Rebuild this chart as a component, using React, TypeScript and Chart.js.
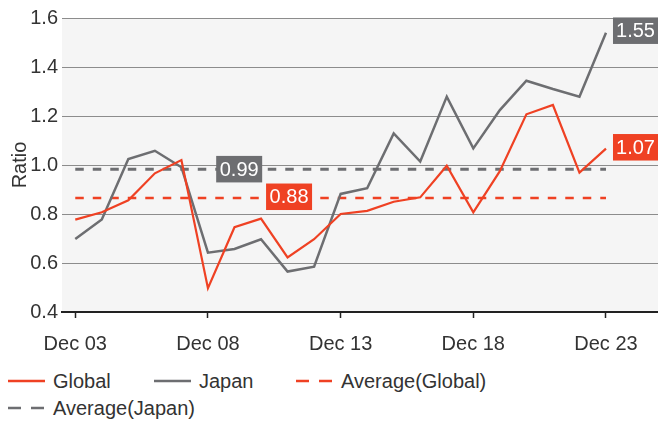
import React, { useEffect, useRef } from "react";
import { Chart, registerables } from "chart.js";

Chart.register(...registerables);

// ---- data ----
const categories = [
  "Dec 03", "Dec 04", "Dec 05", "Dec 06", "Dec 07", "Dec 08", "Dec 09",
  "Dec 10", "Dec 11", "Dec 12", "Dec 13", "Dec 14", "Dec 15", "Dec 16",
  "Dec 17", "Dec 18", "Dec 19", "Dec 20", "Dec 21", "Dec 22", "Dec 23",
];
const tickIndices = [0, 5, 10, 15, 20];
const globalValues = [
  0.777, 0.807, 0.856, 0.966, 1.02, 0.497, 0.746, 0.781, 0.623, 0.697,
  0.8, 0.813, 0.85, 0.868, 0.997, 0.807, 0.975, 1.207, 1.245, 0.969, 1.067,
];
const japanValues = [
  0.698, 0.778, 1.024, 1.058, 0.991, 0.642, 0.657, 0.697, 0.565, 0.585,
  0.882, 0.905, 1.129, 1.014, 1.279, 1.068, 1.224, 1.344, 1.31, 1.279, 1.54,
];
const avgGlobal = 0.865;
const avgJapan = 0.983;
const avgGlobalLabel = "0.88";
const avgJapanLabel = "0.99";
const lastGlobalLabel = "1.07";
const lastJapanLabel = "1.55";
const yTicks = [0.4, 0.6, 0.8, 1.0, 1.2, 1.4, 1.6];

const RED = "#ef4123";
const GRAY = "#6d6e71";
const TEXT = "#333333";
const FONT = "'Liberation Sans', Arial, sans-serif";

const toPoints = (vals: number[]) => vals.map((y, i) => ({ x: i, y }));

function drawBox(ctx: CanvasRenderingContext2D, left: number, right: number, cy: number, h: number, color: string, text: string) {
  ctx.save();
  ctx.fillStyle = color;
  ctx.fillRect(left, cy - h / 2, right - left, h);
  ctx.fillStyle = "#ffffff";
  ctx.font = `20px ${FONT}`;
  ctx.textAlign = "center";
  ctx.textBaseline = "middle";
  ctx.fillText(text, (left + right) / 2, cy + 1);
  ctx.restore();
}

const bgPlugin = {
  id: "bg",
  beforeDraw(chart: any) {
    const { ctx, chartArea } = chart;
    ctx.save();
    ctx.fillStyle = "#f5f5f5";
    ctx.fillRect(chartArea.left, chartArea.top, chartArea.right - chartArea.left, chartArea.bottom - chartArea.top);
    ctx.restore();
  },
};

const labelPlugin = {
  id: "valueLabels",
  afterDatasetsDraw(chart: any) {
    const { ctx, scales, chartArea } = chart;
    const xs = scales.x;
    const ys = scales.y;
    const h = 26.5;
    // average labels
    const jx = xs.getPixelForValue(5.31);
    drawBox(ctx, jx, jx + 46, ys.getPixelForValue(avgJapan), h, GRAY, avgJapanLabel);
    const gx = xs.getPixelForValue(7.19);
    drawBox(ctx, gx, gx + 46, ys.getPixelForValue(avgGlobal) - 1.3, h, RED, avgGlobalLabel);
    // last-value labels
    const last = categories.length - 1;
    const lx = xs.getPixelForValue(last) + 7;
    drawBox(ctx, lx, chartArea.right, ys.getPixelForValue(japanValues[last]) - 2, h, GRAY, lastJapanLabel);
    drawBox(ctx, lx, chartArea.right, ys.getPixelForValue(globalValues[last]) - 1.3, h, RED, lastGlobalLabel);
  },
};

function LegendSwatch({ color, dashed }: { color: string; dashed?: boolean }) {
  return (
    <svg width={37} height={6} style={{ display: "block" }}>
      <line
        x1={0}
        y1={3}
        x2={37}
        y2={3}
        stroke={color}
        strokeWidth={2.5}
        strokeDasharray={dashed ? "13 10" : undefined}
      />
    </svg>
  );
}

function LegendItem({ left, top, color, dashed, label }: any) {
  return (
    <div
      style={{
        position: "absolute",
        left,
        top,
        display: "flex",
        alignItems: "center",
        height: 26,
      }}
    >
      <LegendSwatch color={color} dashed={dashed} />
      <span style={{ marginLeft: 8, font: `20px ${FONT}`, color: TEXT, whiteSpace: "nowrap" }}>{label}</span>
    </div>
  );
}

export default function App() {
  const canvasRef = useRef<HTMLCanvasElement | null>(null);

  useEffect(() => {
    if (!canvasRef.current) return;
    const last = categories.length - 1;
    const chart = new Chart(canvasRef.current, {
      type: "line",
      data: {
        datasets: [
          {
            label: "Global",
            data: toPoints(globalValues),
            borderColor: RED,
            borderWidth: 2.2,
            pointRadius: 0,
            tension: 0,
          },
          {
            label: "Japan",
            data: toPoints(japanValues),
            borderColor: GRAY,
            borderWidth: 2.5,
            pointRadius: 0,
            tension: 0,
          },
          {
            label: "Average(Global)",
            data: [{ x: 0, y: avgGlobal }, { x: last, y: avgGlobal }],
            borderColor: RED,
            borderWidth: 2.5,
            borderDash: [8.5, 9],
            pointRadius: 0,
          },
          {
            label: "Average(Japan)",
            data: [{ x: 0, y: avgJapan }, { x: last, y: avgJapan }],
            borderColor: GRAY,
            borderWidth: 3,
            borderDash: [8.5, 9],
            pointRadius: 0,
          },
        ],
      },
      options: {
        animation: false,
        responsive: false,
        maintainAspectRatio: false,
        layout: { padding: { top: 18, right: 0, bottom: 0, left: 0 } },
        plugins: {
          legend: { display: false },
          tooltip: { enabled: false },
        },
        scales: {
          x: {
            type: "linear",
            min: -0.5,
            max: 21.96,
            afterBuildTicks: (scale: any) => {
              scale.ticks = tickIndices.map((v) => ({ value: v }));
            },
            afterFit: (scale: any) => {
              scale.height = 48;
            },
            ticks: {
              callback: (v: any) => categories[Number(v)] ?? "",
              font: { size: 20, family: FONT },
              color: TEXT,
              padding: 14,
              maxRotation: 0,
              autoSkip: false,
            },
            grid: {
              drawOnChartArea: false,
              drawTicks: true,
              tickLength: 6,
              color: "#222222",
              tickWidth: 1.5,
            },
            border: { display: true, color: "#222222", width: 2 },
          },
          y: {
            min: 0.4,
            max: 1.6,
            afterBuildTicks: (scale: any) => {
              scale.ticks = yTicks.map((v) => ({ value: v }));
            },
            afterFit: (scale: any) => {
              scale.width = 62;
            },
            ticks: {
              callback: (v: any) => Number(v).toFixed(1),
              font: { size: 20, family: FONT },
              color: TEXT,
              padding: 4,
            },
            grid: {
              color: "#8c8c8c",
              lineWidth: 1,
              drawTicks: false,
            },
            border: { display: false },
            title: {
              display: true,
              text: "Ratio",
              font: { size: 20, family: FONT },
              color: TEXT,
              padding: { top: 8, bottom: 0 },
            },
          },
        },
      },
      plugins: [bgPlugin, labelPlugin],
    });
    return () => chart.destroy();
  }, []);

  return (
    <div style={{ position: "fixed", left: 0, top: 0, width: 658, height: 421, background: "#fff" }}>
      <canvas ref={canvasRef} width={658} height={360} style={{ display: "block", width: 658, height: 360 }} />
      <LegendItem left={8} top={368} color={RED} label="Global" />
      <LegendItem left={154} top={368} color={GRAY} label="Japan" />
      <LegendItem left={296} top={368} color={RED} dashed label="Average(Global)" />
      <LegendItem left={8} top={395} color={GRAY} dashed label="Average(Japan)" />
    </div>
  );
}
